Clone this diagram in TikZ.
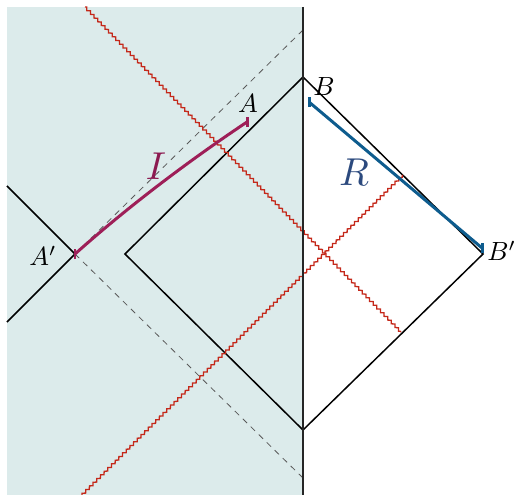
\documentclass[tikz,border=0pt]{standalone}
\usetikzlibrary{decorations.pathmorphing}
\definecolor{bgteal}{HTML}{DCEBEB}
\definecolor{ipurple}{HTML}{9E1F58}
\definecolor{ilabel}{HTML}{8C1A50}
\definecolor{rblue}{HTML}{0E5C8E}
\definecolor{rlabel}{HTML}{2C4A7E}
\definecolor{zred}{HTML}{C4281A}
\newcommand{\smalllab}[1]{\scalebox{1.32}{#1}}
\newcommand{\biglabtext}[1]{\scalebox{1.95}{#1}}
\tikzset{
  edge/.style={line width=0.75pt, black},
  wall/.style={line width=1pt, black!85},
  guide/.style={line width=0.4pt, black!65, dash pattern=on 3bp off 2.6bp},
  shock/.style={zred, line width=0.65pt, decorate, decoration={zigzag, segment length=2.6bp, amplitude=0.6bp}},
  ipath/.style={ipurple, line width=1.5pt},
  rpath/.style={rblue, line width=1.5pt},
  tick/.style={line width=1.5pt},
  lab/.style={inner sep=0pt},
  biglab/.style={inner sep=0pt},
}
\begin{document}
\begin{tikzpicture}[x=0.5bp, y=-0.5bp]
\useasboundingbox (0,0) rectangle (515,495);
\clip (0,0) rectangle (515,495);
\fill[bgteal] (7,7) rectangle (303,495);

% key points
\coordinate (Bt) at (303,77);
\coordinate (L) at (125,254);
\coordinate (Bb) at (303,430);
\coordinate (Bp) at (483,254);
\coordinate (Ap) at (75,254);
\coordinate (Lt) at (7,186);
\coordinate (Lb) at (7,322);
\coordinate (Wt) at (303,7);
\coordinate (Wb) at (303,495);
\coordinate (Dt) at (303,30);
\coordinate (Db) at (303,478);
\coordinate (Z1a) at (85,7);
\coordinate (Z1b) at (401,332);
\coordinate (Z2a) at (82,495);
\coordinate (Z2b) at (403,175);
\coordinate (Aend) at (247,122);
\coordinate (Rs) at (309,102);
\coordinate (Re) at (482,248);

% dashed light rays through A'
\draw[guide] (Ap) -- (Dt);
\draw[guide] (Ap) -- (Db);

% diamond and left wedge
\draw[edge] (Bt) -- (L) -- (Bb) -- (Bp) -- cycle;
\draw[edge] (Lt) -- (Ap) -- (Lb);

% shock waves
\draw[shock] (Z1a) -- (Z1b);
\draw[shock] (Z2a) -- (Z2b);

% wall
\draw[wall] (Wt) -- (Wb);

% interval I
\draw[ipath] (Ap) .. controls (130,205) and (190,160) .. (Aend);
\draw[ipurple, tick] ([yshift=-2.6pt]Aend) -- ([yshift=2.6pt]Aend);
\draw[ipurple, tick] ([yshift=-2.6pt]Ap) -- ([yshift=2.6pt]Ap);

% interval R
\draw[rpath] (Rs) -- (Re);
\draw[rblue, tick] ([yshift=-2.6pt]Rs) -- ([yshift=2.6pt]Rs);
\draw[rblue, tick] ([yshift=-2.6pt]Re) -- ([yshift=2.6pt]Re);

% labels
\node[lab] (lA) at (248,104) {\smalllab{$A$}};
\node[lab] (lB) at (324,87) {\smalllab{$B$}};
\node[lab] (lAp) at (43,256) {\smalllab{$A'$}};
\node[lab, anchor=west] (lBp) at (487,251) {\smalllab{$B'$}};
\node[biglab, text=ilabel] (lI) at (156,166) {\biglabtext{$I$}};
\node[biglab, text=rlabel] (lR) at (354,172) {\biglabtext{$R$}};
\end{tikzpicture}
\end{document}
